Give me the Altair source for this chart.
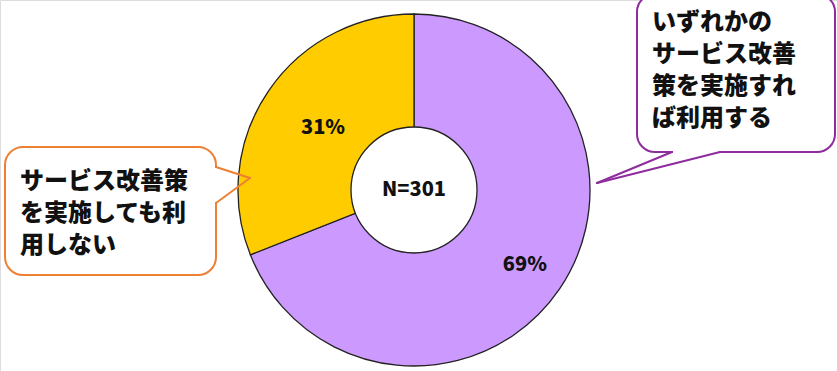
import altair as alt
import pandas as pd

# Survey result: share of respondents by intention to use the service
categories = ["いずれかのサービス改善策を実施すれば利用する", "サービス改善策を実施しても利用しない"]
shares = [69, 31]
slice_colors = ["#CC99FF", "#FFCC00"]
sample_size = 301

callout_use = ["いずれかの", "サービス改善", "策を実施すれ", "ば利用する"]
callout_not = ["サービス改善策", "を実施しても利", "用しない"]

FONT = "Noto Sans CJK JP"
WEIGHT = 900
CX, CY = 414, 190
R_OUT, R_IN = 176, 63

pie_df = pd.DataFrame({
    "category": categories,
    "share": shares,
    "order": list(range(len(categories))),
    "label": [f"{s}%" for s in shares],
})

color = alt.Color("category:N", scale=alt.Scale(domain=categories, range=slice_colors), legend=None)

slices = alt.Chart(pie_df).mark_arc(
    outerRadius=R_OUT, innerRadius=0, stroke="#222222", strokeWidth=1.3
).encode(
    theta=alt.Theta("share:Q", stack=True),
    order=alt.Order("order:Q"),
    color=color, x=alt.value(CX), y=alt.value(CY),
)

hole = alt.Chart(pd.DataFrame({"n": [f"N={sample_size}"]})).mark_point(
    shape="circle", filled=True, fill="white", stroke="#222222", strokeWidth=1.3,
    size=(2 * R_IN) ** 2, opacity=1,
).encode(x=alt.value(CX), y=alt.value(CY))

center_text = alt.Chart(pd.DataFrame({"n": [f"N={sample_size}"]})).mark_text(
    font=FONT, fontSize=20, fontWeight=WEIGHT, color="#111111"
).encode(x=alt.value(CX), y=alt.value(CY), text="n:N")

# percentage labels sit inside each slice, at the slice's middle angle
labels = alt.Chart(pie_df).transform_joinaggregate(
    total="sum(share)"
).transform_window(
    cum="sum(share)", sort=[alt.SortField("order")]
).transform_calculate(
    mid="(datum.cum - datum.share / 2) / datum.total * 2 * PI",
    r="datum.order == 0 ? 134 : 110",
).mark_text(
    font=FONT, fontSize=20, fontWeight=WEIGHT, color="#111111"
).encode(
    text="label:N",
    theta=alt.Theta("mid:Q", scale=None),
    radius=alt.Radius("r:Q", scale=None),
    x=alt.value(CX), y=alt.value(CY),
)

one = pd.DataFrame({"k": [0]})

def callout(x0, x1, y0, y1, stroke, cover, pointer, lines, tx, ty):
    box = alt.Chart(one).mark_rect(
        fill="white", stroke=stroke, strokeWidth=2, cornerRadius=18
    ).encode(x=alt.value(x0), x2=alt.value(x1), y=alt.value(y0), y2=alt.value(y1))
    gap = alt.Chart(one).mark_rect(fill="white").encode(
        x=alt.value(cover[0]), x2=alt.value(cover[1]),
        y=alt.value(cover[2]), y2=alt.value(cover[3]),
    )
    (ax, ay), (bx, by), (px, py) = pointer
    side_a = alt.Chart(one).mark_rule(color=stroke, strokeWidth=2, strokeCap="round").encode(
        x=alt.value(ax), y=alt.value(ay), x2=alt.value(px), y2=alt.value(py)
    )
    side_b = alt.Chart(one).mark_rule(color=stroke, strokeWidth=2, strokeCap="round").encode(
        x=alt.value(bx), y=alt.value(by), x2=alt.value(px), y2=alt.value(py)
    )
    txt = alt.Chart(pd.DataFrame({"t": ["\n".join(lines)]})).mark_text(
        font=FONT, fontSize=24, fontWeight=WEIGHT, color="#111111",
        align="left", baseline="top", lineBreak="\n", lineHeight=32,
    ).encode(x=alt.value(tx), y=alt.value(ty), text="t:N")
    return box + gap + side_a + side_b + txt

left_box = callout(
    5, 216, 147, 275, "#EE8033",
    (213, 219, 168, 202),
    ((216, 167), (216, 203), (250, 178)),
    callout_not, 20, 170,
)
right_box = callout(
    637, 835, -6, 152, "#8E2C9E",
    (673, 719, 149, 155),
    ((672, 152), (720, 152), (597, 183)),
    callout_use, 652, 11,
)

chart = alt.layer(
    slices, hole, center_text, labels, left_box, right_box
).properties(
    width=837, height=371, padding=0, autosize=alt.AutoSizeParams(type="none")
).configure_view(stroke=None).configure(background="white")

chart.save("out.html", embed_options={"renderer": "svg", "actions": False})
